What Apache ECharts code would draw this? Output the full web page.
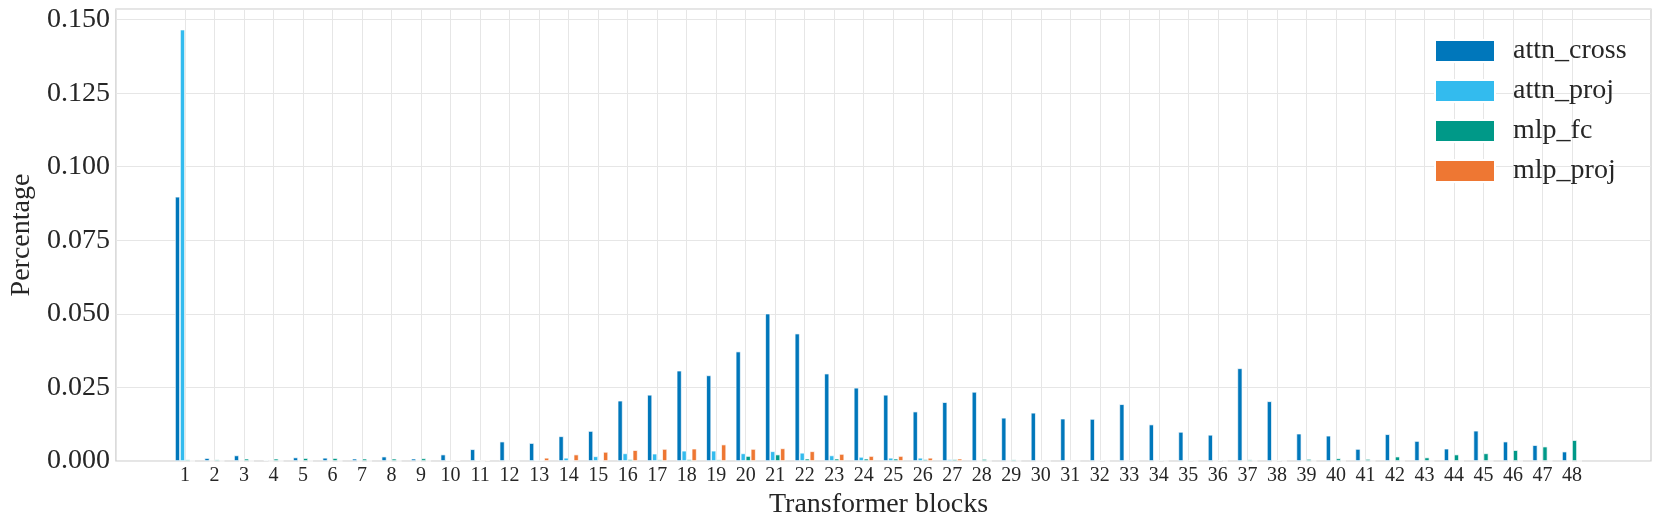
<!DOCTYPE html>
<html>
<head>
<meta charset="utf-8">
<script src="https://cdn.jsdelivr.net/npm/echarts@6/dist/echarts.min.js"></script>
<style>
  html, body { margin: 0; padding: 0; background: #fff; }
  #chart { width: 1661px; height: 525px; }
</style>
</head>
<body>
<div id="chart"></div>
<script>
  // transformer blocks 1..48
  const blocks = ['1','2','3','4','5','6','7','8','9','10','11','12','13','14','15','16',
    '17','18','19','20','21','22','23','24','25','26','27','28','29','30','31','32',
    '33','34','35','36','37','38','39','40','41','42','43','44','45','46','47','48']

  const attnCross = [0.0898, 0.0010, 0.0019, 0.0003, 0.0012, 0.0011, 0.0008, 0.0015, 0.0008, 0.0022,
    0.0040, 0.0066, 0.0061, 0.0084, 0.0102, 0.0205, 0.0225, 0.0307, 0.0291, 0.0372,
    0.0501, 0.0433, 0.0297, 0.0249, 0.0225, 0.0168, 0.0200, 0.0235, 0.0147, 0.0164,
    0.0144, 0.0143, 0.0193, 0.0124, 0.0099, 0.0089, 0.0315, 0.0203, 0.0093, 0.0086,
    0.0041, 0.0091, 0.0068, 0.0042, 0.0103, 0.0066, 0.0054, 0.0032]

  const attnProj = [0.1466, 0, 0, 0, 0, 0, 0, 0, 0, 0.0003,
    0.0003, 0, 0.0003, 0.0011, 0.0016, 0.0026, 0.0025, 0.0035, 0.0035, 0.0026,
    0.0033, 0.0028, 0.0019, 0.0014, 0.0011, 0.0011, 0.0006, 0, 0, 0,
    0, 0, 0, 0, 0, 0, 0, 0, 0, 0,
    0, 0, 0, 0, 0, 0, 0, 0]

  const mlpFc = [0.0005, 0.0005, 0.0008, 0.0008, 0.0010, 0.0010, 0.0008, 0.0008, 0.0009, 0,
    0, 0, 0.0003, 0, 0, 0.0006, 0.0005, 0.0006, 0.0005, 0.0017,
    0.0022, 0.0008, 0.0008, 0.0008, 0.0008, 0.0006, 0.0006, 0.0007, 0.0005, 0,
    0, 0.0003, 0.0002, 0.0003, 0.0003, 0.0003, 0.0005, 0.0003, 0.0007, 0.0009,
    0.0007, 0.0015, 0.0012, 0.0022, 0.0026, 0.0037, 0.0049, 0.0071]

  const mlpProj = [0, 0, 0, 0, 0, 0, 0, 0, 0, 0.0003,
    0.0003, 0, 0.0011, 0.0022, 0.0031, 0.0037, 0.0041, 0.0042, 0.0056, 0.0041,
    0.0043, 0.0033, 0.0024, 0.0017, 0.0017, 0.0011, 0.0008, 0, 0, 0,
    0, 0, 0, 0, 0, 0, 0, 0, 0, 0,
    0, 0, 0, 0, 0, 0, 0, 0]

  const yTicks = ['0.000', '0.025', '0.050', '0.075', '0.100', '0.125', '0.150']

  const seriesNames = ['attn_cross', 'attn_proj', 'mlp_fc', 'mlp_proj']
  const colorList = ['#0077BB', '#33BBEE', '#009988', '#EE7733']
  const font = '"Liberation Serif", "DejaVu Serif", serif'
  const textColor = '#262626'
  const gridColor = '#e6e6e6'
  const yMax = 0.1536

  const chart = echarts.init(document.getElementById('chart'))

  const makeBar = (name, data) => ({
    name: name,
    type: 'bar',
    xAxisIndex: 1,
    yAxisIndex: 1,
    data: data,
    barWidth: 5,
    barGap: '0%',
    clip: false,
    itemStyle: { borderColor: '#fff', borderWidth: 0.7 }
  })

  const option = {
    animation: false,
    color: colorList,
    textStyle: { fontFamily: font },
    grid: [
      // frame
      { left: 106, right: 10, top: 9, bottom: 64, show: true, borderColor: '#cccccc', borderWidth: 1.2 },
      // bars
      { left: 185, right: 89, top: 9, bottom: 64 }
    ],
    legend: {
      orient: 'vertical',
      left: 1429,
      top: 32,
      itemWidth: 60,
      itemHeight: 22,
      itemGap: 12,
      icon: 'rect',
      data: seriesNames,
      textStyle: { fontFamily: font, fontSize: 28, color: textColor, padding: [0, 0, 0, 13] }
    },
    xAxis: [
      { type: 'value', gridIndex: 0, show: false, min: 0, max: 1 },
      {
        type: 'category',
        gridIndex: 1,
        data: blocks,
        boundaryGap: false,
        name: 'Transformer blocks',
        nameLocation: 'middle',
        nameGap: 24,
        nameTextStyle: { fontFamily: font, fontSize: 28, color: textColor },
        axisLine: { show: false },
        axisTick: { show: false },
        axisLabel: { interval: 0, margin: 5, fontFamily: font, fontSize: 20, color: textColor },
        splitLine: { show: true, interval: 0, lineStyle: { color: gridColor, width: 1 } }
      }
    ],
    yAxis: [
      {
        type: 'value',
        gridIndex: 0,
        min: 0,
        max: yMax,
        interval: 0.025,
        name: 'Percentage',
        nameLocation: 'middle',
        nameGap: 72,
        nameTextStyle: { fontFamily: font, fontSize: 28, color: textColor },
        axisLine: { show: false },
        axisTick: { show: false },
        axisLabel: {
          margin: 6,
          fontFamily: font,
          fontSize: 28,
          color: textColor,
          showMaxLabel: false,
          formatter: (v) => {
            const i = Math.round(v / 0.025)
            return Math.abs(v - i * 0.025) < 1e-9 && yTicks[i] ? yTicks[i] : ''
          }
        },
        splitLine: { show: true, lineStyle: { color: gridColor, width: 1.2 } }
      },
      { type: 'value', gridIndex: 1, min: 0, max: yMax, show: false, splitLine: { show: false } }
    ],
    series: [
      makeBar(seriesNames[0], attnCross),
      makeBar(seriesNames[1], attnProj),
      makeBar(seriesNames[2], mlpFc),
      makeBar(seriesNames[3], mlpProj)
    ]
  }

  chart.setOption(option)
</script>
</body>
</html>
